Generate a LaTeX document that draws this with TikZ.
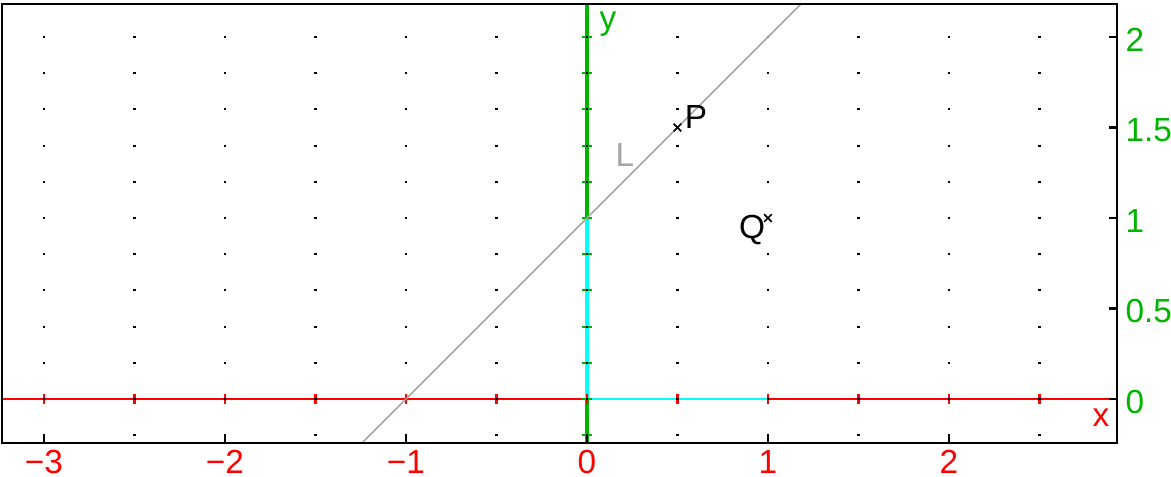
\documentclass[tikz,border=0pt]{standalone}
\usepackage{fontspec}
\setmainfont{Liberation Sans}
\usepackage{xcolor}
\definecolor{verdey}{RGB}{0,180,0}
\definecolor{cinzaL}{RGB}{165,165,165}
\definecolor{ciano}{RGB}{0,255,255}

\begin{document}
\begin{tikzpicture}[x=1.81cm, y=1.81cm,
    rotulo/.style={inner sep=0pt, font=\fontsize{9.5}{11}\selectfont},
    marca/.style={line width=0.6pt}]
  \useasboundingbox (-3.243,-0.4254) rectangle (3.2265,2.2044);
  % eixos
  \draw[red, line width=0.45pt] (-3.232,0) -- (2.928,0);
  \draw[verdey, line width=0.9pt] (0,-0.243) -- (0,2.182);
  % segmentos em ciano
  \draw[ciano, line width=1pt] (0,0) -- (0,1);
  \draw[ciano, line width=0.75pt] (0,0) -- (1,0);
  % marcas nos eixos
  \foreach \x in {-3,-2.5,...,2.5}
    \draw[marca, red] (\x,-0.027) -- (\x,0.027);
  \foreach \j in {-1,...,10}
    \draw[marca, verdey] (-0.03,{\j*0.2}) -- (0.03,{\j*0.2});
  % grade de pontos
  \foreach \x in {-3,-2.5,...,2.5}
    \foreach \j in {-1,...,10}
      \fill ({\x-0.006},{\j*0.2-0.006}) rectangle ({\x+0.006},{\j*0.2+0.006});
  % reta L
  \draw[cinzaL, line width=0.5pt] (-1.243,-0.243) -- (1.182,2.182);
  % moldura e marcas
  \draw[line width=0.75pt] (-3.232,-0.243) rectangle (2.928,2.182);
  \foreach \x in {-3,...,2}
    \draw[marca] (\x,-0.243) -- (\x,-0.198);
  \foreach \y in {0,0.5,...,2}
    \draw[marca] (2.928,\y) -- (2.883,\y);
  % rotulos dos eixos
  \foreach \x/\t [count=\i] in {-3/−3,-2/−2,-1/−1,0/0,1/1,2/2}
    \node[rotulo, red] (rotx\i) at (\x,-0.348) {\t};
  \foreach \y [count=\i] in {0,0.5,1,1.5,2}
    \node[rotulo, verdey, anchor=west] (roty\i) at (2.972,\y-0.016) {\y};
  \node[rotulo, red] (nomex) at (2.84,-0.105) {x};
  \node[rotulo, verdey] (nomey) at (0.116,2.072) {y};
  \node[rotulo, cinzaL] (nomeL) at (0.210,1.348) {L};
  % pontos P e Q
  \coordinate (P) at (0.5,1.5);
  \coordinate (Q) at (1,1);
  \foreach \p in {P,Q} {
    \draw[line width=0.5pt] ([shift={(-0.021,-0.021)}]\p) -- ([shift={(0.021,0.021)}]\p);
    \draw[line width=0.5pt] ([shift={(-0.021,0.021)}]\p) -- ([shift={(0.021,-0.021)}]\p);
  }
  \node[rotulo] (nomeP) at (0.602,1.558) {P};
  \node[rotulo] (nomeQ) at (0.912,0.934) {Q};
\end{tikzpicture}
\end{document}
